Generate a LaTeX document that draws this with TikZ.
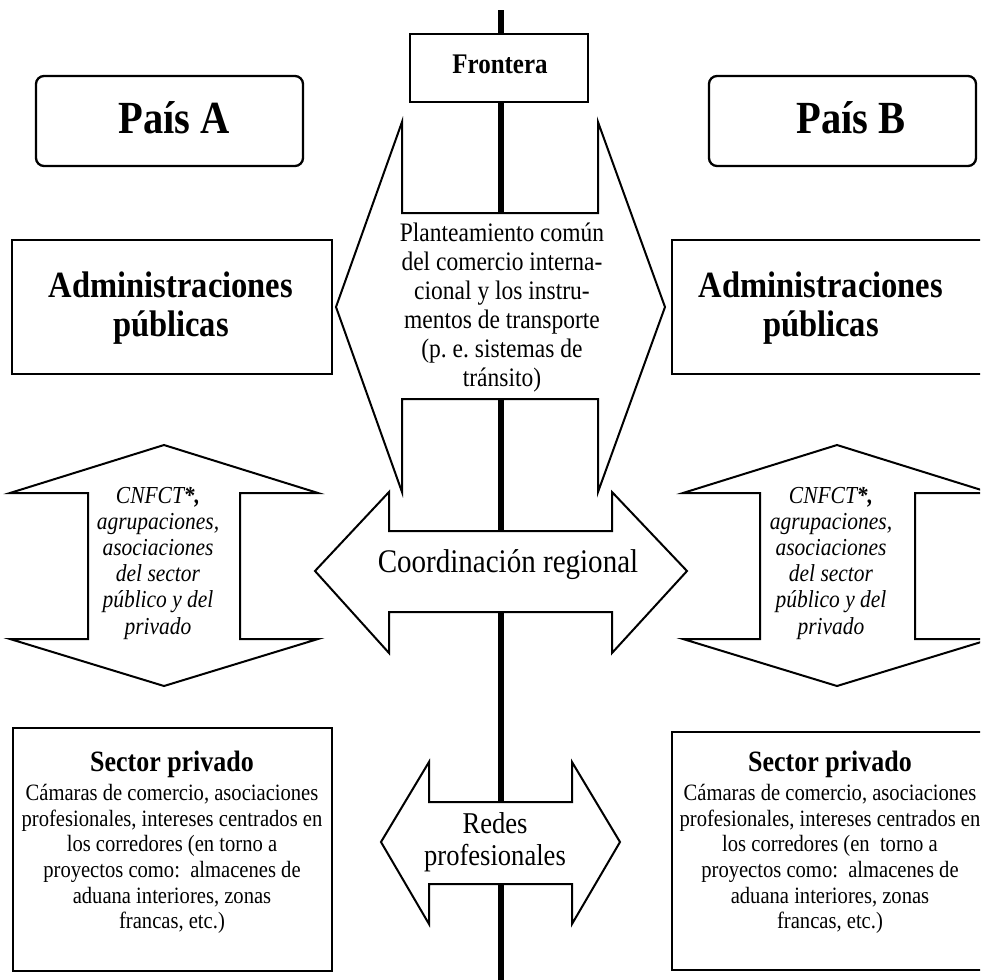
\documentclass[tikz,border=0pt]{standalone}
\usepackage{fontspec}
\setmainfont{Liberation Serif}[FakeStretch=0.88]
\frenchspacing
\begin{document}
\begin{tikzpicture}[x=1pt,y=-1pt,
  arrowshape/.style={draw=black, line width=2pt, fill=white, line join=miter},
  plainbox/.style={draw=black, line width=2.3pt, fill=white},
  roundbox/.style={draw=black, line width=2.3pt, fill=white, rounded corners=8pt},
  label/.style={inner sep=0pt, align=center},
]
\useasboundingbox (0,0) rectangle (980,980);
\clip (0,0) rectangle (980,980);

% border line
\coordinate (lineTop) at (501,10);
\coordinate (lineBot) at (501,995);
\draw[line width=5.5pt] (lineTop) -- (lineBot);

% Frontera
\draw[plainbox] (410,34) rectangle (588,102);
\node[label, anchor=base, font=\fontsize{28.4}{32}\selectfont\bfseries] (frontera) at (500,73) {Frontera};

% Pais A / B
\draw[roundbox] (36,76) rectangle (303,166);
\node[label, anchor=base, font=\fontsize{46}{52}\selectfont\bfseries] (paisA) at (174,133) {País A};
\draw[roundbox] (709,76) rectangle (976,166);
\node[label, anchor=base, font=\fontsize{46}{52}\selectfont\bfseries] (paisB) at (851,133) {País B};

% Administraciones
\draw[plainbox] (12,240) rectangle (332,374);
\node[label, font=\fontsize{37}{38.5}\selectfont\bfseries] (adminA) at (171,308) {Administraciones\\públicas};
\draw[plainbox] (672,240) rectangle (995,374);
\node[label, font=\fontsize{37}{38.5}\selectfont\bfseries] (adminB) at (821,308) {Administraciones\\públicas};

% central double arrow (common approach)
\draw[arrowshape] (402,122) -- (336,307) -- (402,492) -- (402,399) -- (598,399) -- (598,492)
  -- (665,307) -- (598,122) -- (598,213) -- (402,213) -- cycle;
\node[label, font=\fontsize{26.7}{29}\selectfont] (comun) at (502,308)
  {Planteamiento común\\del comercio interna-\\cional y los instru-\\mentos de transporte\\(p. e. sistemas de\\tránsito)};

% vertical arrows CNFCT
\draw[arrowshape] (164,445) -- (318,493) -- (240,493) -- (240,639) -- (318,639) -- (164,686)
  -- (10,639) -- (88,639) -- (88,493) -- (10,493) -- cycle;
\node[label, font=\fontsize{24.4}{26.2}\selectfont\itshape] (cnfctA) at (158,563)
  {CNFCT\textbf{*,}\\agrupaciones,\\asociaciones\\del sector\\público y del\\privado};
\draw[arrowshape] (837,445) -- (991,493) -- (915,493) -- (915,639) -- (991,639) -- (837,686)
  -- (683,639) -- (760,639) -- (760,493) -- (683,493) -- cycle;
\node[label, font=\fontsize{24.4}{26.2}\selectfont\itshape] (cnfctB) at (831,563)
  {CNFCT\textbf{*,}\\agrupaciones,\\asociaciones\\del sector\\público y del\\privado};

% Coordinacion regional
\draw[arrowshape] (315,571) -- (389,492) -- (389,531) -- (612,531) -- (612,492) -- (687,571)
  -- (612,653) -- (612,612) -- (389,612) -- (389,653) -- cycle;
\node[label, anchor=base, font=\fontsize{33}{38}\selectfont] (coord) at (508,572) {Coordinación regional};

% Redes profesionales
\draw[arrowshape] (381,842) -- (429,762) -- (429,802) -- (572,802) -- (572,762) -- (620,842)
  -- (572,924) -- (572,884) -- (429,884) -- (429,924) -- cycle;
\node[label, font=\fontsize{30.2}{32}\selectfont] (redes) at (495,842) {Redes\\profesionales};

% Sector privado
\draw[plainbox] (13,728) rectangle (332,971);
\node[label, anchor=base, font=\fontsize{29.5}{32}\selectfont\bfseries] (privA) at (172,771) {Sector privado};
\node[label, font=\fontsize{23.4}{25.6}\selectfont] (privAtext) at (172,859)
  {Cámaras de comercio, asociaciones\\profesionales, intereses centrados en\\los corredores (en torno a\\proyectos como: ~almacenes de\\aduana interiores, zonas\\francas, etc.)};
\draw[plainbox] (672,732) rectangle (995,970);
\node[label, anchor=base, font=\fontsize{29.5}{32}\selectfont\bfseries] (privB) at (830,771) {Sector privado};
\node[label, font=\fontsize{23.4}{25.6}\selectfont] (privBtext) at (830,859)
  {Cámaras de comercio, asociaciones\\profesionales, intereses centrados en\\los corredores (en ~torno a\\proyectos como: ~almacenes de\\aduana interiores, zonas\\francas, etc.)};
\end{tikzpicture}
\end{document}
